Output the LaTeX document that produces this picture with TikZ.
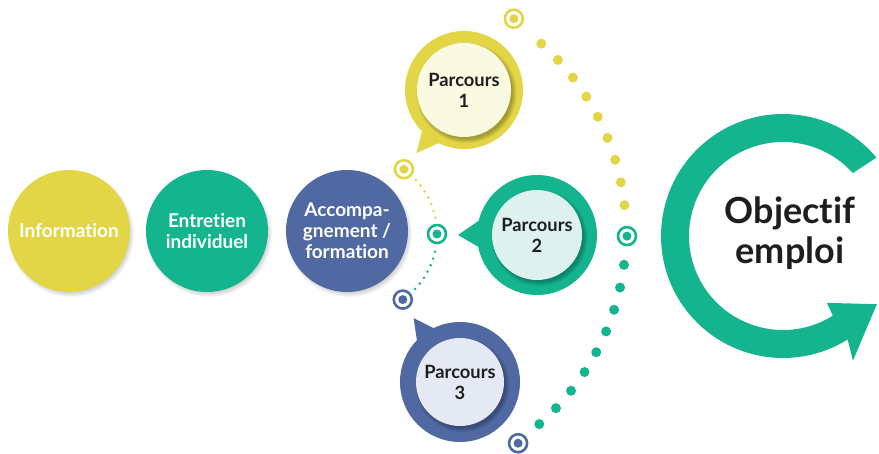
\documentclass[tikz,border=0pt]{standalone}
\usepackage{fontspec}
\setmainfont[Ligatures={NoCommon}]{Lato}
\usetikzlibrary{calc}
\definecolor{cyel}{HTML}{E2D546}
\definecolor{cgrn}{HTML}{14B48F}
\definecolor{cblu}{HTML}{5069A3}
\definecolor{cyelL}{HTML}{FAF9E2}
\definecolor{cgrnL}{HTML}{DDF1EE}
\definecolor{cbluL}{HTML}{E5E9F3}
\definecolor{ctxt}{HTML}{1E1E1E}
\begin{document}
\begin{tikzpicture}[x=1pt,y=1pt,
  stage/.style={circle, minimum size=122pt, inner sep=0pt, align=center, text=white,
    font=\fontsize{19}{21}\selectfont\bfseries},
  ring/.style={circle, inner sep=0pt},
  inner/.style={circle, inner sep=0pt, align=center, text=ctxt,
    font=\fontsize{18.3}{21}\selectfont\bfseries},
  target/.style={circle, draw=#1, line width=2.6pt, fill=white, minimum size=18pt, inner sep=0pt,
    path picture={\fill[#1] (path picture bounding box.center) circle[radius=4.5pt];}},
]
\useasboundingbox (0,0) rectangle (879,453);

% centres
\coordinate (cI) at (69,222);
\coordinate (cE) at (207,222);
\coordinate (cA) at (347,222);
\coordinate (p1c) at (464,363);
\coordinate (p2c) at (537,218);
\coordinate (p3c) at (460,71);
\coordinate (bigc) at (372,220);
\coordinate (smc) at (357,219);
\coordinate (arc) at (783,217);

% soft shadows of the stage circles
\foreach \c in {cI,cE,cA}{
  \foreach \k in {1,...,6}{
    \fill[black,opacity=0.035] ([shift={(2,-3)}]\c) circle[radius=64-\k];
  }
}

% stage circles
\node[stage, fill=cyel] (info) at (cI) {Information};
\node[stage, fill=cgrn] (entr) at (cE) {Entretien\\individuel};
\node[stage, fill=cblu] (acc) at (cA) {Accompa-\\gnement /\\formation};

% small dotted arc
\foreach \a in {0,...,6}{
  \fill[cyel] ($(smc)+({42.5-\a*5.15}:80)$) circle[radius=1.4];
  \fill[cgrn] ($(smc)+({-12.8-\a*5.1}:80)$) circle[radius=1.4];
}

% big dotted arc
\foreach \a in {0,...,8}{
  \fill[cyel] ($(bigc)+({48.2-\a*5.24}:254)$) circle[radius=5];
  \fill[cgrn] ($(bigc)+({-7.2-\a*5.2}:254)$) circle[radius=5];
}

% parcours bubbles
\fill[cyel] ($(p1c)+(222:55)$) -- ($(p1c)+(233:79)$) -- ($(p1c)+(248:55)$) -- cycle;
\node[ring, fill=cyel, minimum size=118pt] (p1o) at (p1c) {};
\fill[cgrn] ($(p2c)+(160:55)$) -- ($(p2c)+(180:79)$) -- ($(p2c)+(196:55)$) -- cycle;
\node[ring, fill=cgrn, minimum size=120pt] (p2o) at (p2c) {};
\fill[cblu] ($(p3c)+(112:55)$) -- ($(p3c)+(126:79)$) -- ($(p3c)+(140:55)$) -- cycle;
\node[ring, fill=cblu, minimum size=120pt] (p3o) at (p3c) {};

% inner shadows
\foreach \c/\r in {p1c/47,p2c/45,p3c/44}{
  \foreach \k in {1,...,5}{
    \fill[black,opacity=0.06] ([shift={(2.5,-3)}]\c) circle[radius=\r+4-\k];
  }
}
\node[inner, fill=cyelL, minimum size=94pt] (p1) at (p1c) {Parcours\\1};
\node[inner, fill=cgrnL, minimum size=90pt] (p2) at (p2c) {Parcours\\2};
\node[inner, fill=cbluL, minimum size=88pt] (p3) at (p3c) {Parcours\\3};

% targets
\node[target=cyel] (m1) at ($(bigc)+(56.5:257)$) {};
\node[target=cgrn] (m5) at ($(bigc)+(-0.7:255)$) {};
\node[target=cblu] (m6) at ($(bigc)+(-55.2:256)$) {};
\node[target=cyel] (m2) at ($(smc)+(54.1:80)$) {};
\node[target=cgrn] (m3) at ($(smc)+(0:80)$) {};
\node[target=cblu] (m4) at ($(smc)+(-55.1:80)$) {};

% objectif arrow
\fill[cgrn] ($(arc)+(40:122)$) arc[start angle=40, end angle=302, radius=122]
  -- ($(arc)+(299.3:143)$) -- ($(arc)+(324:116)$) -- ($(arc)+(303.3:80)$)
  -- ($(arc)+(302:94)$) arc[start angle=302, end angle=42, radius=94] -- cycle;
\node[font=\fontsize{36}{40}\selectfont\bfseries, text=ctxt, align=center] (obj) at (790,220) {Objectif\\emploi};
\end{tikzpicture}
\end{document}
